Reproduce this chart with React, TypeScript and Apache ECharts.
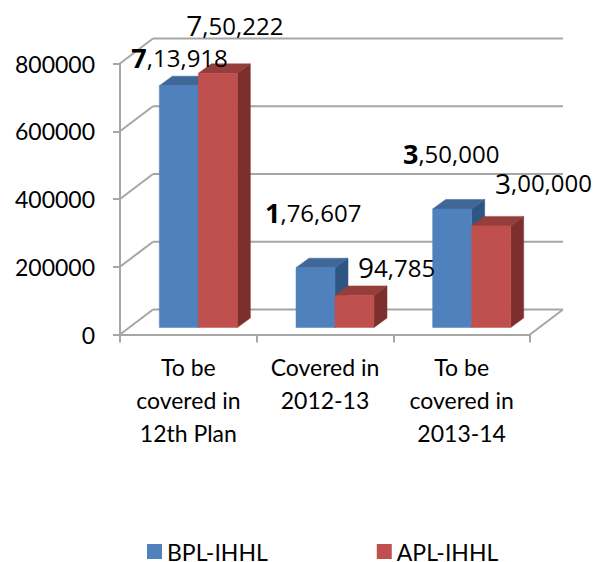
import React, { useEffect, useRef } from "react";
import * as echarts from "echarts";

const categories = ["To be\ncovered in\n12th Plan", "Covered in\n2012-13", "To be\ncovered in\n2013-14"];
const bplValues = [713918, 176607, 350000];
const aplValues = [750222, 94785, 300000];
const bplLabels = ["{b|7},13,918", "{b|1},76,607", "{b|3},50,000"];
const aplLabels = ["{l|7},50,222", "{l|9}4,785", "{l|3},00,000"];
const yTicks = [0, 200000, 400000, 600000, 800000];

const GRID = "#A6A6A6";
const AXIS_FONT = "Lato";
const LABEL_FONT = "'Open Sans'";
const DX = 33, DY = 25;
const BAR_DX = 10, BAR_DY = 7, DEPTH_X = 13, DEPTH_Y = 9.5;

function face(points: number[][], fill: string) {
  return { type: "polygon", shape: { points }, style: { fill, stroke: fill, lineWidth: 0.5 } };
}

function barSeries(name: string, values: number[], side: number, front: string, top: string, right: string) {
  return {
    type: "custom", name, coordinateSystem: "cartesian2d", silent: true, z: side === 0 ? 4 : 5,
    itemStyle: { color: front },
    data: values.map((v, i) => [i, v]),
    renderItem: (params: any, api: any) => {
      const i = api.value(0);
      const c0 = api.coord([i, 0]);
      const c1 = api.coord([i, api.value(1)]);
      const w = 39;
      const x0 = c0[0] + BAR_DX - w + side * w;
      const x1 = x0 + w;
      const yb = c0[1] - BAR_DY;
      const yt = c1[1] - BAR_DY;
      return {
        type: "group",
        children: [
          face([[x1, yb], [x1 + DEPTH_X, yb - DEPTH_Y], [x1 + DEPTH_X, yt - DEPTH_Y], [x1, yt]], right),
          face([[x0, yt], [x0 + DEPTH_X, yt - DEPTH_Y], [x1 + DEPTH_X, yt - DEPTH_Y], [x1, yt]], top),
          face([[x0, yb], [x1, yb], [x1, yt], [x0, yt]], front),
        ],
      };
    },
  };
}

function labelSeries(values: number[], labels: string[], offsets: number[][]) {
  return {
    type: "custom", coordinateSystem: "cartesian2d", silent: true, z: 10,
    data: values.map((v, i) => [i, v]),
    renderItem: (params: any, api: any) => {
      const c = api.coord([api.value(0), api.value(1)]);
      const o = offsets[params.dataIndex];
      return {
        type: "text",
        x: c[0] + o[0], y: c[1] + o[1],
        style: {
          text: labels[params.dataIndex],
          fill: "#000", font: `24px ${LABEL_FONT}`, align: "left", verticalAlign: "middle",
          rich: {
            b: { font: `bold 27px ${LABEL_FONT}`, fill: "#000" },
            l: { font: `28px ${LABEL_FONT}`, fill: "#000" },
          },
        },
      };
    },
  };
}

const wallSeries = {
  type: "custom", coordinateSystem: "cartesian2d", silent: true, z: 1,
  data: yTicks.map((t) => [0, t]),
  renderItem: (params: any, api: any) => {
    const v = api.value(1);
    const l = api.coord([0, v]);
    const r = api.coord([categories.length - 1, v]);
    const band = api.size([1, 0])[0];
    const xl = l[0] - band / 2;
    const xr = r[0] + band / 2;
    const style = { stroke: GRID, lineWidth: 2, fill: "none" };
    const children: any[] = [
      { type: "line", shape: { x1: xl, y1: l[1], x2: xl + DX, y2: l[1] - DY }, style },
      { type: "line", shape: { x1: xl + DX, y1: l[1] - DY, x2: xr + DX, y2: l[1] - DY }, style },
    ];
    if (v === 0) children.push({ type: "line", shape: { x1: xr, y1: l[1], x2: xr + DX, y2: l[1] - DY }, style });
    return { type: "group", children };
  },
};

export default function App() {
  const ref = useRef<HTMLDivElement>(null);
  useEffect(() => {
    const chart = echarts.init(ref.current!, undefined, { renderer: "svg" });
    chart.setOption({
      animation: false,
      backgroundColor: "#fff",
      grid: { left: 120, right: 67, top: 63.5, bottom: 227.5, containLabel: false },
      legend: {
        left: 147, top: 540, padding: 0, itemGap: 109, itemWidth: 15, itemHeight: 15, icon: "rect",
        data: ["BPL-IHHL", "APL-IHHL"],
        textStyle: { fontFamily: AXIS_FONT, fontSize: 23, lineHeight: 15, color: "#000" },
      },
      xAxis: {
        type: "category", data: categories,
        axisLine: { lineStyle: { color: GRID, width: 2 } },
        axisTick: { show: true, alignWithLabel: false, length: 8, lineStyle: { color: GRID, width: 2 } },
        axisLabel: { color: "#000", fontFamily: AXIS_FONT, fontSize: 23, lineHeight: 33, margin: 16, interval: 0, verticalAlign: "top" },
      },
      yAxis: {
        type: "value", min: 0, max: 800000, interval: 200000,
        axisLine: { show: true, lineStyle: { color: GRID, width: 2 } },
        axisTick: { show: true, length: 7, lineStyle: { color: GRID, width: 2 } },
        axisLabel: { color: "#000", fontFamily: AXIS_FONT, fontSize: 23, margin: 25, formatter: (v: number) => String(v) },
        splitLine: { show: false },
      },
      series: [
        wallSeries,
        barSeries("BPL-IHHL", bplValues, 0, "#4F81BD", "#3F6797", "#2F5583"),
        barSeries("APL-IHHL", aplValues, 1, "#C0504D", "#953E3C", "#7D2F2D"),
        labelSeries(bplValues, bplLabels, [[-57, -35], [-60, -62], [-58.7, -62]]),
        labelSeries(aplValues, aplLabels, [[-2, -55], [33, -35], [33.3, -50]]),
      ],
    });
    return () => chart.dispose();
  }, []);
  return <div ref={ref} style={{ position: "absolute", left: 0, top: 0, width: 597, height: 562 }} />;
}
